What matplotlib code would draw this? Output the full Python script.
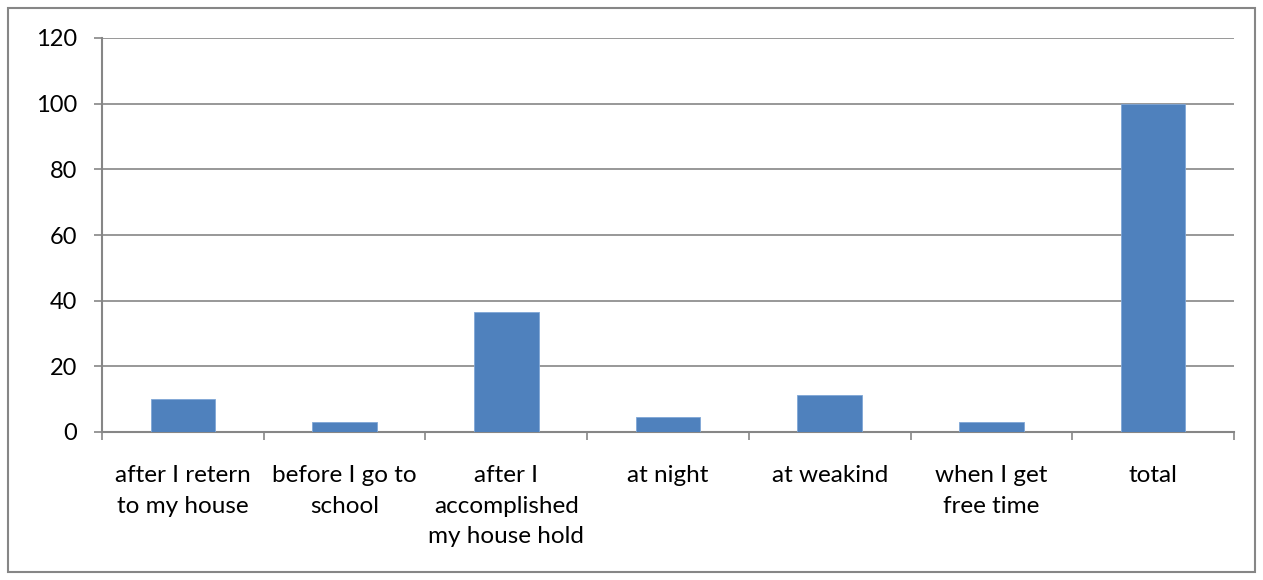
import matplotlib.pyplot as plt
from matplotlib.patches import Rectangle
import numpy as np

categories = ["after I retern\nto my house", "before I go to\nschool", "after I\naccomplished\nmy house hold",
              "at night", "at weakind", "when I get\nfree time", "total"]
values = [10, 3.1, 36.6, 4.5, 11.3, 3.1, 100]

plt.rcParams['font.family'] = ['Lato', 'DejaVu Sans']
gray = "#868686"

fig = plt.figure(figsize=(12.63, 5.8), dpi=100)
ax = fig.add_axes([102 / 1263, 1 - 432 / 580, (1234 - 102) / 1263, (432 - 38) / 580])

x = np.arange(len(categories))
ax.bar(x, values, width=0.4, color="#4f81bd", edgecolor="#7fa6d6", linewidth=0.6, zorder=3)

ax.set_xlim(-0.5, len(categories) - 0.5)
ax.set_ylim(0, 120)
ax.set_yticks(range(0, 121, 20))
ax.yaxis.grid(True, color=gray, linewidth=1.2, zorder=0)
ax.tick_params(axis='y', length=6, color=gray, width=1.2, labelsize=17, pad=12)

ax.set_xticks(x)
ax.set_xticklabels(categories, fontsize=17.5, linespacing=1.56, va='top')
ax.tick_params(axis='x', length=0, pad=24)
ax.set_xticks(np.arange(-0.5, len(categories), 1), minor=True)
ax.tick_params(axis='x', which='minor', length=6, color=gray, width=1.2)

for s in ['top', 'right']:
    ax.spines[s].set_visible(False)
for s in ['left', 'bottom']:
    ax.spines[s].set_color(gray)
    ax.spines[s].set_linewidth(1.5)

fig.patches.append(Rectangle((8 / 1263, 8 / 580), 1247 / 1263, 564 / 580, transform=fig.transFigure,
                             fill=False, edgecolor=gray, linewidth=1.5))

plt.savefig("out.png", dpi=100)
